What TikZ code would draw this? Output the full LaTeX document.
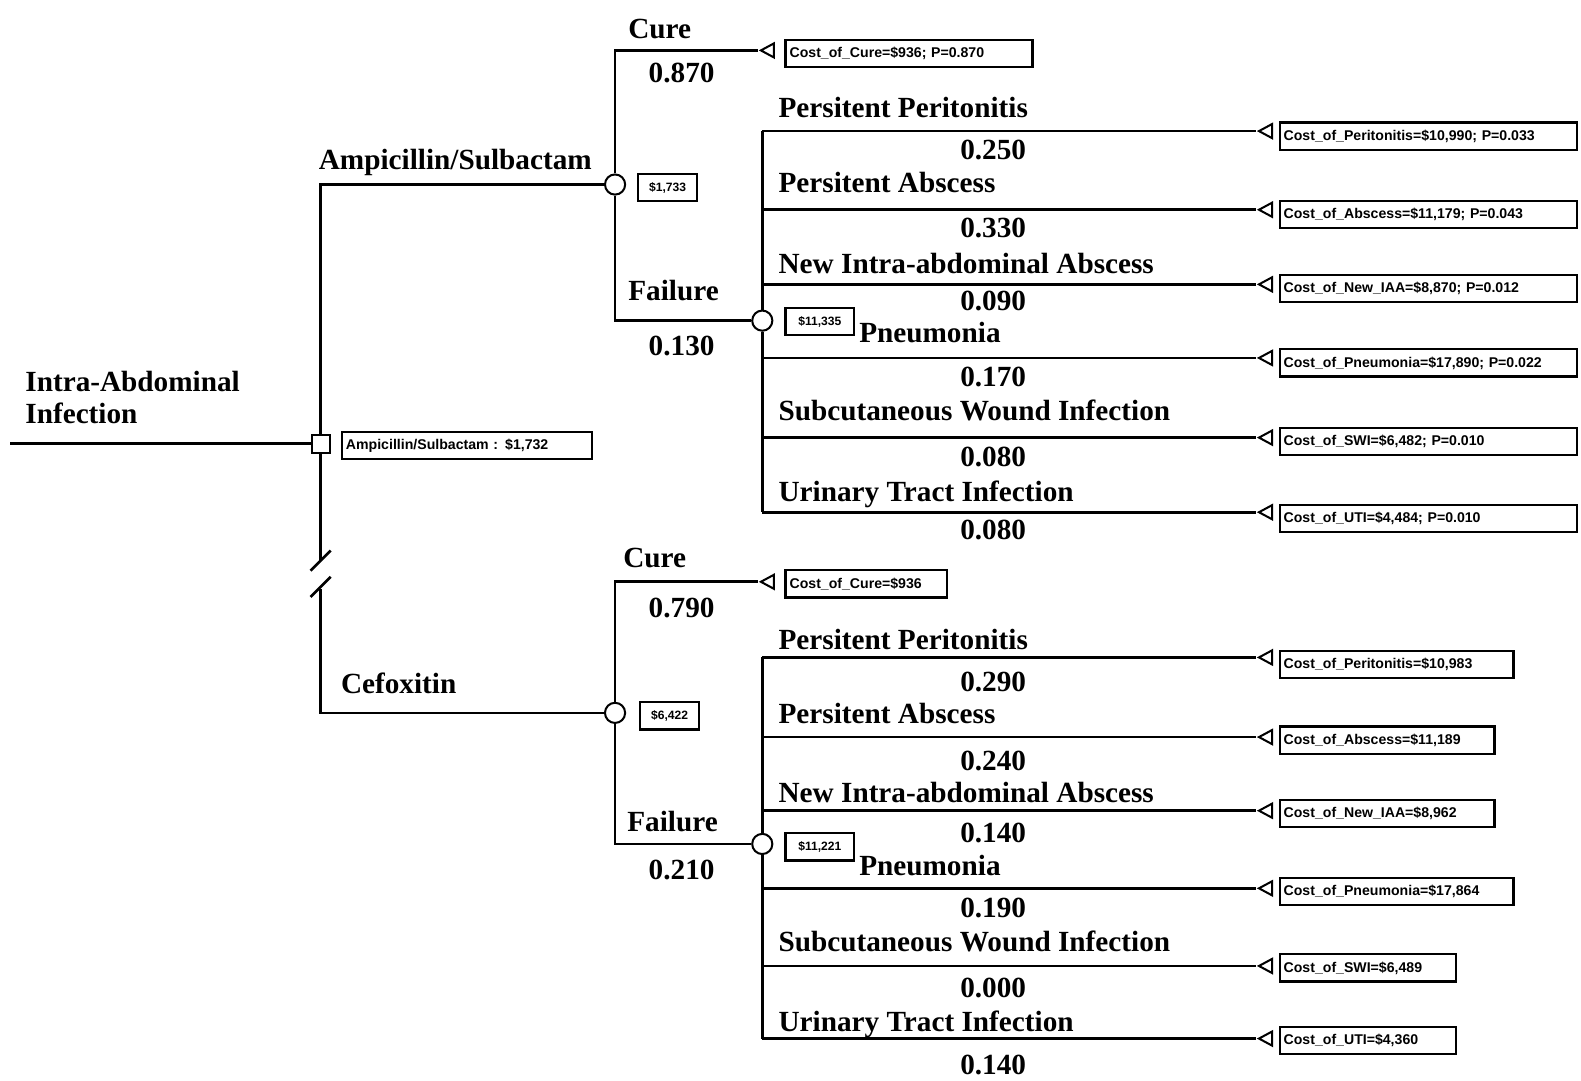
\documentclass[tikz,border=0pt]{standalone}
\usepackage{fontspec}
\setmainfont{Liberation Serif}
\newfontfamily\costfam{Liberation Sans}
\usetikzlibrary{shapes.geometric}
\begin{document}
\begin{tikzpicture}[x=1pt,y=-1pt,
  edge/.style={line width=2.6pt},
  lbl/.style={font=\fontsize{29}{32}\selectfont\bfseries, anchor=base west, inner sep=0pt},
  prob/.style={font=\fontsize{29}{32}\selectfont\bfseries, anchor=base, inner sep=0pt},
  chance/.style={circle, draw, fill=white, line width=2pt, minimum size=20pt, inner sep=0pt},
  decision/.style={rectangle, draw, fill=white, line width=2pt, minimum size=18pt, inner sep=0pt},
  term/.style={isosceles triangle, shape border rotate=180, isosceles triangle stretches, draw, fill=white, line width=2pt, minimum width=14pt, minimum height=13pt, inner sep=0pt, anchor=apex},
  cost/.style={draw, fill=white, line width=2.2pt, anchor=west, font=\costfam\bfseries\fontsize{14}{15}\selectfont, minimum height=27pt, inner xsep=4pt, inner ysep=0pt, align=left},
  val/.style={cost, font=\costfam\bfseries\fontsize{12}{13}\selectfont}
]
\useasboundingbox[fill=white] (0,0) rectangle (1568,1072);

% ---- root and decision
\coordinate (root) at (10,440);
\node[decision] (dec) at (318,440) {};
\node[lbl, align=left] (rootlbl) at (25,420) {Intra-Abdominal\\Infection};
\node[cost, text width=240pt] (decv) at (338,442) {Ampicillin/Sulbactam : \$1,732};
\coordinate (cA) at (318,183);
\coordinate (cB) at (318,707);
\coordinate (brk1) at (318,556);
\coordinate (brk2) at (318,584);

% ---- Ampicillin/Sulbactam arm
\node[chance] (chA) at (610,183) {};
\node[val, minimum width=58pt] (vA) at (632,186) {\$1,733};
\node[lbl] (lA) at (316,168) {Ampicillin/Sulbactam};
\coordinate (cureA) at (610,50);
\coordinate (failA) at (610,318);
\node[term] (tCureA) at (752,50) {};
\node[cost, text width=237pt] (bCureA) at (778,53) {Cost\_of\_Cure=\$936; P=0.870};
\node[lbl] (lCureA) at (623,38) {Cure};
\node[prob] (pCureA) at (676,82) {0.870};
\node[lbl] (lFailA) at (623,298) {Failure};
\node[prob] (pFailA) at (676,353) {0.130};
\node[chance] (fA) at (756,318) {};
\node[val, minimum width=68pt] (vfA) at (778,319) {\$11,335};

\coordinate (a1) at (756,130);
\coordinate (a2) at (756,208);
\coordinate (a3) at (756,282);
\coordinate (a4) at (756,355);
\coordinate (a5) at (756,434);
\coordinate (a6) at (756,508);
\node[term] (ta1) at (1246,130) {};
\node[term] (ta2) at (1246,208) {};
\node[term] (ta3) at (1246,282) {};
\node[term] (ta4) at (1246,355) {};
\node[term] (ta5) at (1246,434) {};
\node[term] (ta6) at (1246,508) {};
\node[cost, text width=287pt] (ba1) at (1268,135) {Cost\_of\_Peritonitis=\$10,990; P=0.033};
\node[cost, text width=287pt] (ba2) at (1268,213) {Cost\_of\_Abscess=\$11,179; P=0.043};
\node[cost, text width=287pt] (ba3) at (1268,286) {Cost\_of\_New\_IAA=\$8,870; P=0.012};
\node[cost, text width=287pt] (ba4) at (1268,360) {Cost\_of\_Pneumonia=\$17,890; P=0.022};
\node[cost, text width=287pt] (ba5) at (1268,438) {Cost\_of\_SWI=\$6,482; P=0.010};
\node[cost, text width=287pt] (ba6) at (1268,514) {Cost\_of\_UTI=\$4,484; P=0.010};
\node[lbl] (la1) at (772,117) {Persitent Peritonitis};
\node[lbl] (la2) at (772,191) {Persitent Abscess};
\node[lbl] (la3) at (772,271) {New Intra-abdominal Abscess};
\node[lbl] (la4) at (852,340) {Pneumonia};
\node[lbl] (la5) at (772,417) {Subcutaneous Wound Infection};
\node[lbl] (la6) at (772,497) {Urinary Tract Infection};
\node[prob] (pa1) at (985,158) {0.250};
\node[prob] (pa2) at (985,236) {0.330};
\node[prob] (pa3) at (985,308) {0.090};
\node[prob] (pa4) at (985,383) {0.170};
\node[prob] (pa5) at (985,463) {0.080};
\node[prob] (pa6) at (985,535) {0.080};

% ---- Cefoxitin arm
\node[chance] (chB) at (610,707) {};
\node[val, minimum width=58pt] (vB) at (634,710) {\$6,422};
\node[lbl] (lB) at (338,688) {Cefoxitin};
\coordinate (cureB) at (610,577);
\coordinate (failB) at (610,837);
\node[term] (tCureB) at (752,577) {};
\node[cost, text width=152pt] (bCureB) at (778,579) {Cost\_of\_Cure=\$936};
\node[lbl] (lCureB) at (618,563) {Cure};
\node[prob] (pCureB) at (676,612) {0.790};
\node[lbl] (lFailB) at (622,825) {Failure};
\node[prob] (pFailB) at (676,872) {0.210};
\node[chance] (fB) at (756,837) {};
\node[val, minimum width=68pt] (vfB) at (778,840) {\$11,221};

\coordinate (b1) at (756,652);
\coordinate (b2) at (756,731);
\coordinate (b3) at (756,804);
\coordinate (b4) at (756,881);
\coordinate (b5) at (756,958);
\coordinate (b6) at (756,1030);
\node[term] (tb1) at (1246,652) {};
\node[term] (tb2) at (1246,731) {};
\node[term] (tb3) at (1246,804) {};
\node[term] (tb4) at (1246,881) {};
\node[term] (tb5) at (1246,958) {};
\node[term] (tb6) at (1246,1030) {};
\node[cost, text width=224pt] (bb1) at (1268,659) {Cost\_of\_Peritonitis=\$10,983};
\node[cost, text width=205pt] (bb2) at (1268,734) {Cost\_of\_Abscess=\$11,189};
\node[cost, text width=205pt] (bb3) at (1268,807) {Cost\_of\_New\_IAA=\$8,962};
\node[cost, text width=224pt] (bb4) at (1268,884) {Cost\_of\_Pneumonia=\$17,864};
\node[cost, text width=167pt] (bb5) at (1268,960) {Cost\_of\_SWI=\$6,489};
\node[cost, text width=167pt] (bb6) at (1268,1032) {Cost\_of\_UTI=\$4,360};
\node[lbl] (lb1) at (772,644) {Persitent Peritonitis};
\node[lbl] (lb2) at (772,718) {Persitent Abscess};
\node[lbl] (lb3) at (772,796) {New Intra-abdominal Abscess};
\node[lbl] (lb4) at (852,868) {Pneumonia};
\node[lbl] (lb5) at (772,944) {Subcutaneous Wound Infection};
\node[lbl] (lb6) at (772,1023) {Urinary Tract Infection};
\node[prob] (pb1) at (985,686) {0.290};
\node[prob] (pb2) at (985,764) {0.240};
\node[prob] (pb3) at (985,836) {0.140};
\node[prob] (pb4) at (985,910) {0.190};
\node[prob] (pb5) at (985,989) {0.000};
\node[prob] (pb6) at (985,1066) {0.140};

% ---- connectors
\draw[edge] (root) -- (dec.west);
\draw[edge] (dec.north) -- (cA) -- (chA.west);
\draw[edge] (dec.south) -- (brk1);
\draw[edge] (brk2) -- (cB) -- (chB.west);
\draw[edge] (308,566) -- (328,546);
\draw[edge] (308,592) -- (328,572);

\draw[edge] (chA.north) -- (cureA) -- (tCureA.apex);
\draw[edge] (chA.south) -- (failA) -- (fA.west);
\draw[edge] (fA.north) -- (a1);
\draw[edge] (fA.south) -- (a6);
\foreach \k in {1,...,6} {\draw[edge] (a\k) -- (ta\k.apex);}

\draw[edge] (chB.north) -- (cureB) -- (tCureB.apex);
\draw[edge] (chB.south) -- (failB) -- (fB.west);
\draw[edge] (fB.north) -- (b1);
\draw[edge] (fB.south) -- (b6);
\foreach \k in {1,...,6} {\draw[edge] (b\k) -- (tb\k.apex);}
\end{tikzpicture}
\end{document}
